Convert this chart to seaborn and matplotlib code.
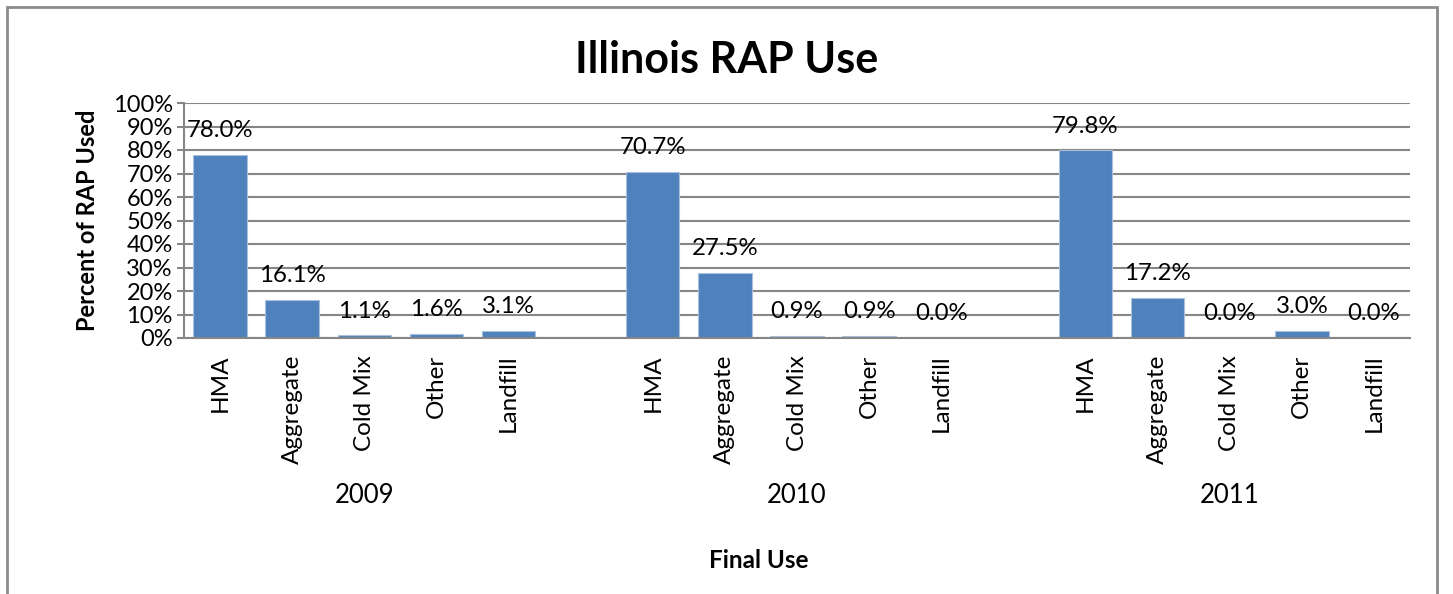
import numpy as np
import pandas as pd
import matplotlib
matplotlib.use('Agg')
import matplotlib.pyplot as plt
import seaborn as sns
from matplotlib.patches import Rectangle
from matplotlib.ticker import PercentFormatter

# data
years = ['2009', '2010', '2011']
uses = ['HMA', 'Aggregate', 'Cold Mix', 'Other', 'Landfill']
pct_2009 = [78.0, 16.1, 1.1, 1.6, 3.1]
pct_2010 = [70.7, 27.5, 0.9, 0.9, 0.0]
pct_2011 = [79.8, 17.2, 0.0, 3.0, 0.0]

rows = []
for yr, vals in zip(years, [pct_2009, pct_2010, pct_2011]):
    for u, v in zip(uses, vals):
        rows.append({'slot': f'{yr} {u}', 'year': yr, 'use': u, 'pct': v})
df = pd.DataFrame(rows)

# slot order with an empty slot between year groups
order = []
for i, yr in enumerate(years):
    order += [f'{yr} {u}' for u in uses]
    if i < len(years) - 1:
        order.append(f'gap{i}')

sns.set_theme(style='white')
plt.rcParams['font.family'] = ['Lato', 'DejaVu Sans']
plt.rcParams['text.color'] = 'black'
plt.rcParams['axes.labelcolor'] = 'black'

fig = plt.figure(figsize=(14.53, 5.94), dpi=100)
ax = fig.add_axes([184 / 1453, 1 - 338 / 594, (1410 - 184) / 1453, (338 - 103) / 594])

sns.barplot(data=df, x='slot', y='pct', order=order, color='#4F81BD',
            saturation=1, width=0.74, edgecolor='#A9C1DF', linewidth=0.8, ax=ax)

ax.set_ylim(0, 100)
ax.set_xlim(-0.5, len(order) - 0.5)
ax.set_yticks(np.arange(0, 101, 10))
ax.yaxis.set_major_formatter(PercentFormatter(decimals=0))
ax.yaxis.grid(True, color='#868686', lw=1.5)
ax.set_axisbelow(True)
for s in ['top', 'right']:
    ax.spines[s].set_visible(False)
for s in ['left', 'bottom']:
    ax.spines[s].set_color('#868686')
    ax.spines[s].set_linewidth(1.5)
ax.tick_params(axis='y', left=True, length=5, color='#868686', width=1.5,
               labelsize=17, pad=3, labelcolor='black')

# category tick labels
tick_pos = [i for i, s in enumerate(order) if not s.startswith('gap')]
tick_lab = [s.split(' ', 1)[1] for s in order if not s.startswith('gap')]
ax.set_xticks(tick_pos)
ax.set_xticklabels(tick_lab, rotation=90, fontsize=17.5, va='top')
ax.tick_params(axis='x', bottom=False, pad=6, labelcolor='black')
ax.set_xlabel('')
ax.set_ylabel('Percent of RAP Used', fontsize=17, fontweight='bold', labelpad=10)

# data labels
for cont in ax.containers:
    ax.bar_label(cont, labels=[f'{v:.1f}%' for v in cont.datavalues],
                 padding=10, fontsize=17.3, color='black')

# year labels under each group
for i, yr in enumerate(years):
    center = i * 6 + 2
    ax.text(center, -67, yr, ha='center', va='center', fontsize=18.5,
            clip_on=False)

fig.text(759 / 1453, 1 - 561 / 594, 'Final Use', ha='center', va='center',
         fontsize=17.5, fontweight='bold')
fig.text(727 / 1453, 1 - 60 / 594, 'Illinois RAP Use', ha='center', va='center',
         fontsize=31, fontweight='bold')

# chart border
fig.patches.append(Rectangle((7 / 1453, -0.05), (1437 - 7) / 1453, 1.05 - 7 / 594,
                             transform=fig.transFigure, fill=False,
                             edgecolor='#8C8C8C', lw=2))

fig.savefig('out.png', dpi=100)
